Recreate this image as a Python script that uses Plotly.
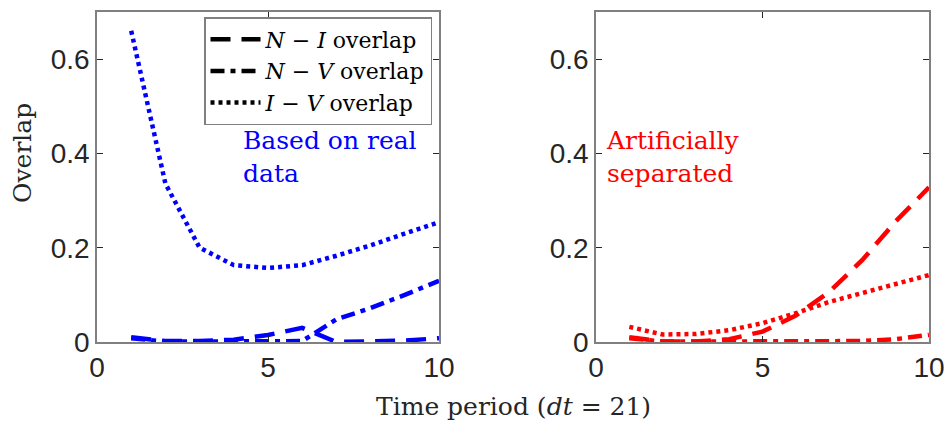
import plotly.graph_objects as go

x = [1, 2, 3, 4, 5, 6, 7, 8, 9, 10]

# Left panel (based on real data)
real_NI = [0.010, 0.002, 0.002, 0.005, 0.015, 0.030, 0.000, 0.001, 0.003, 0.008]
real_NV = [0.008, 0.001, 0.001, 0.001, 0.001, 0.002, 0.048, 0.072, 0.100, 0.130]
real_IV = [0.660, 0.336, 0.200, 0.163, 0.157, 0.163, 0.183, 0.205, 0.230, 0.254]

# Right panel (artificially separated)
art_NI = [0.010, 0.001, 0.001, 0.006, 0.022, 0.056, 0.106, 0.174, 0.256, 0.328]
art_NV = [0.008, 0.001, 0.001, 0.001, 0.001, 0.001, 0.001, 0.002, 0.006, 0.015]
art_IV = [0.032, 0.016, 0.017, 0.025, 0.040, 0.061, 0.085, 0.104, 0.121, 0.142]

legend_names = ["<i>N</i> − <i>I</i> overlap", "<i>N</i> − <i>V</i> overlap", "<i>I</i> − <i>V</i> overlap"]
x_ticks = [0, 5, 10]
x_labels = ["0", "5", "10"]
y_ticks = [0, 0.2, 0.4, 0.6]
y_labels = ["0", "0.2", "0.4", "0.6"]

DASH_NI = "20px,11px"
DASH_NV = "14px,6px,5px,6px"
DASH_IV = "4px,4px"
LW = 4.5

fig = go.Figure()

def add(xv, yv, color, dash, xa, ya):
    fig.add_trace(go.Scatter(x=xv, y=yv, mode="lines", showlegend=False,
                             line=dict(color=color, width=LW, dash=dash),
                             xaxis=xa, yaxis=ya))

add(x, real_IV, "#0000ff", DASH_IV, "x", "y")
add(x, real_NV, "#0000ff", DASH_NV, "x", "y")
add(x, real_NI, "#0000ff", DASH_NI, "x", "y")
add(x, art_IV, "#ff0000", DASH_IV, "x2", "y2")
add(x, art_NV, "#ff0000", DASH_NV, "x2", "y2")
add(x, art_NI, "#ff0000", DASH_NI, "x2", "y2")

for name, dash in zip(legend_names, [DASH_NI, DASH_NV, DASH_IV]):
    fig.add_trace(go.Scatter(x=[None], y=[None], mode="lines", name=name,
                             line=dict(color="black", width=LW, dash=dash),
                             xaxis="x", yaxis="y"))

axis_common = dict(showline=True, linecolor="#808080", linewidth=1.5, mirror="ticks",
                   ticks="inside", ticklen=6, tickcolor="#262626", tickwidth=1,
                   showgrid=False, zeroline=False, automargin=False,
                   tickfont=dict(family="Liberation Sans, Arial", size=28, color="#262626"))

ydom = [1 - 342 / 423, 1 - 12 / 423]
fig.update_layout(
    width=946, height=423,
    margin=dict(l=0, r=0, t=0, b=0, autoexpand=False),
    paper_bgcolor="white", plot_bgcolor="white",
    xaxis=dict(domain=[97 / 946, 439 / 946], range=[0, 10], tickvals=x_ticks, ticktext=x_labels, anchor="y", **axis_common),
    yaxis=dict(domain=ydom, range=[0, 0.7], tickvals=y_ticks, ticktext=y_labels, anchor="x", **axis_common),
    xaxis2=dict(domain=[596 / 946, 929 / 946], range=[0, 10], tickvals=x_ticks, ticktext=x_labels, anchor="y2", **axis_common),
    yaxis2=dict(domain=ydom, range=[0, 0.7], tickvals=y_ticks, ticktext=y_labels, anchor="x2", **axis_common),
    legend=dict(x=204 / 946, y=1 - 17 / 423, xanchor="left", yanchor="top",
                bordercolor="#808080", borderwidth=1.5, bgcolor="white",
                font=dict(family="DejaVu Serif, Liberation Serif, serif", size=22, color="black"),
                tracegroupgap=0, itemwidth=50),
    showlegend=True,
)

serif = "DejaVu Serif, Liberation Serif, serif"
fig.add_annotation(xref="paper", yref="paper", x=241 / 946, y=1 - 124 / 423, xanchor="left", yanchor="top",
                   text="Based on real<br>data", showarrow=False, align="left",
                   font=dict(family=serif, size=25, color="#0000ff"))
fig.add_annotation(xref="paper", yref="paper", x=604 / 946, y=1 - 124 / 423, xanchor="left", yanchor="top",
                   text="Artificially<br>separated", showarrow=False, align="left",
                   font=dict(family=serif, size=25, color="#ff0000"))
fig.add_annotation(xref="paper", yref="paper", x=22 / 946, y=1 - 153 / 423, xanchor="center", yanchor="middle",
                   text="Overlap", showarrow=False, textangle=-90,
                   font=dict(family=serif, size=25, color="#262626"))
fig.add_annotation(xref="paper", yref="paper", x=513 / 946, y=1 - 406 / 423, xanchor="center", yanchor="middle",
                   text="Time period (<i>dt</i> = 21)", showarrow=False,
                   font=dict(family=serif, size=25, color="#262626"))

fig.write_html("out.html")
